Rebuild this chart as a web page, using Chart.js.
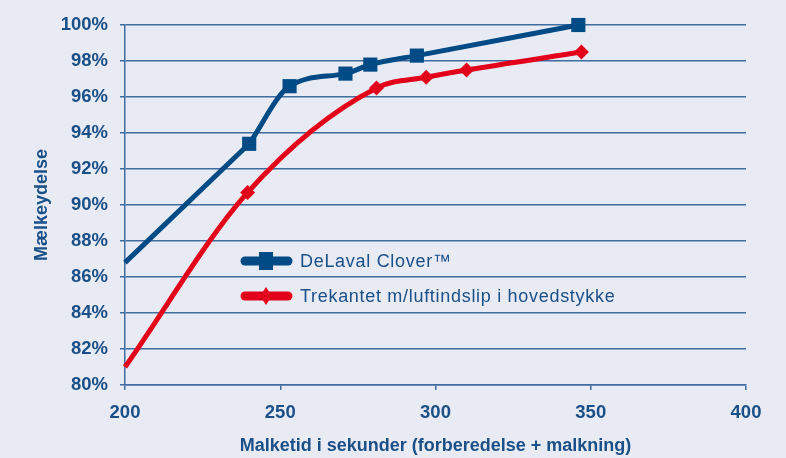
<!DOCTYPE html>
<html>
<head>
<meta charset="utf-8">
<script src="https://cdn.jsdelivr.net/npm/chart.js@4"></script>
<style>
  html, body { margin: 0; padding: 0; background: #e8ebf4; }
  #wrap { width: 786px; height: 458px; position: relative; }
</style>
</head>
<body>
<div id="wrap"><canvas id="chart"></canvas></div>
<script>
const xTicks = [200, 250, 300, 350, 400]
const cloverTime = [200, 240, 253, 271, 279, 294, 346]
const cloverYield = [86.8, 93.4, 96.6, 97.3, 97.8, 98.3, 100]
const trekTime = [200, 239.5, 281, 297, 310, 347]
const trekYield = [81.0, 90.7, 96.5, 97.1, 97.5, 98.5]
const seriesNames = ['DeLaval Clover™', 'Trekantet m/luftindslip i hovedstykke']

const BLUE = '#004a85'
const RED = '#e2001a'
const GRID = '#3f6d9f'
const TEXT = '#1b4f87'
const FONT = '"Liberation Sans", Arial, sans-serif'

function toPoints(xs, ys) {
  return xs.map((x, i) => ({ x: x, y: ys[i] }))
}

const cloverPts = toPoints(cloverTime, cloverYield)
const trekPts = toPoints(trekTime, trekYield)

// legend drawn inside the plot, line sample with a marker in the middle
const innerLegend = {
  id: 'innerLegend',
  afterDraw(chart) {
    const ctx = chart.ctx
    const rows = [261, 296]
    const shown = chart.data.datasets.filter(ds => ds.inLegend)
    ctx.save()
    shown.forEach((ds, i) => {
      const y = rows[i]
      ctx.strokeStyle = ds.borderColor
      ctx.lineWidth = 9
      ctx.lineCap = 'round'
      ctx.beginPath()
      ctx.moveTo(245, y)
      ctx.lineTo(288, y)
      ctx.stroke()
      ctx.fillStyle = ds.borderColor
      const cx = 266
      if (ds.pointStyle === 'rect') {
        ctx.fillRect(cx - 7, y - 9, 14, 18)
      } else {
        ctx.beginPath()
        ctx.moveTo(cx, y - 9)
        ctx.lineTo(cx + 6, y)
        ctx.lineTo(cx, y + 9)
        ctx.lineTo(cx - 6, y)
        ctx.closePath()
        ctx.fill()
      }
      ctx.fillStyle = TEXT
      ctx.font = '18px ' + FONT
      ctx.letterSpacing = '0.7px'
      ctx.textBaseline = 'middle'
      ctx.fillText(ds.label, 300, y + 1)
    })
    ctx.restore()
  }
}

new Chart(document.getElementById('chart'), {
  type: 'line',
  data: {
    datasets: [
      {
        // straight first stretch of the Clover curve
        label: '',
        data: cloverPts.slice(0, 2),
        borderColor: BLUE,
        borderWidth: 5,
        pointRadius: 0,
        tension: 0,
        clip: false
      },
      {
        label: seriesNames[0],
        inLegend: true,
        data: cloverPts.slice(1),
        borderColor: BLUE,
        backgroundColor: BLUE,
        borderWidth: 5,
        pointStyle: 'rect',
        pointRadius: 10,
        pointBorderWidth: 0,
        cubicInterpolationMode: 'monotone',
        clip: false
      },
      {
        label: seriesNames[1],
        inLegend: true,
        data: trekPts,
        borderColor: RED,
        backgroundColor: RED,
        borderWidth: 5,
        pointStyle: 'rectRot',
        pointRadius: ctx => ctx.dataIndex === 0 ? 0 : 7.5,
        pointBorderWidth: 0,
        cubicInterpolationMode: 'monotone',
        clip: false
      }
    ]
  },
  options: {
    responsive: true,
    maintainAspectRatio: false,
    animation: false,
    events: [],
    layout: { padding: { top: 25, right: 40, left: 0, bottom: 0 } },
    plugins: {
      legend: { display: false },
      tooltip: { enabled: false }
    },
    scales: {
      x: {
        type: 'linear',
        min: 200,
        max: 400,
        afterBuildTicks: scale => { scale.ticks = xTicks.map(v => ({ value: v })) },
        afterFit: scale => { scale.height = 73 },
        grid: { drawOnChartArea: false, color: GRID, lineWidth: 1.5, tickLength: 5 },
        border: { color: GRID, width: 1.5 },
        ticks: {
          color: TEXT,
          padding: 12,
          font: { family: FONT, size: 18.5, weight: 'bold' }
        },
        title: {
          display: true,
          text: 'Malketid i sekunder (forberedelse + malkning)',
          color: TEXT,
          padding: { top: 0, bottom: 1 },
          font: { family: FONT, size: 18, weight: 'bold' }
        }
      },
      y: {
        min: 80,
        max: 100,
        afterFit: scale => { scale.width = 125 },
        grid: { color: GRID, lineWidth: 1.5, tickLength: 5 },
        border: { color: GRID, width: 1.5 },
        ticks: {
          stepSize: 2,
          color: TEXT,
          padding: 12,
          callback: v => v + '%',
          font: { family: FONT, size: 18.5, weight: 'bold' }
        },
        title: {
          display: true,
          text: 'Mælkeydelse',
          color: TEXT,
          padding: { top: 31, bottom: 0 },
          font: { family: FONT, size: 18, weight: 'bold' }
        }
      }
    }
  },
  plugins: [innerLegend]
})
</script>
</body>
</html>
